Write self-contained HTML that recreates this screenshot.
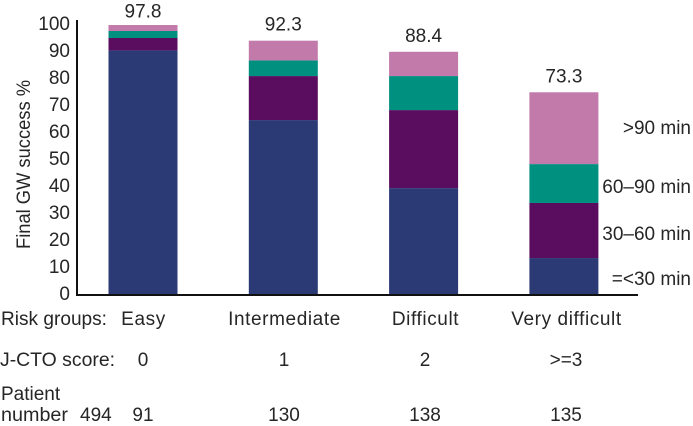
<!DOCTYPE html>
<html>
<head>
<meta charset="utf-8">
<style>
html,body{margin:0;padding:0;background:#fff}
svg{display:block}
text{font-family:"Liberation Sans",sans-serif;font-size:19px;fill:#262626}
.wide{letter-spacing:.6px}
</style>
</head>
<body>
<svg id="chart" width="693" height="426" viewBox="0 0 693 426" xmlns="http://www.w3.org/2000/svg">
<text transform="translate(30,249) rotate(-90)" textLength="169" lengthAdjust="spacingAndGlyphs">Final GW success %</text>
<text x="691" y="134" text-anchor="end">&gt;90 min</text>
<text x="691" y="193" text-anchor="end">60–90 min</text>
<text x="691" y="240" text-anchor="end">30–60 min</text>
<text x="691" y="285" text-anchor="end">=&lt;30 min</text>
<text x="1" y="325" textLength="106" lengthAdjust="spacingAndGlyphs">Risk groups:</text>
<text x="0" y="366" textLength="115" lengthAdjust="spacingAndGlyphs">J-CTO score:</text>
<text x="1" y="400">Patient</text>
<text x="1" y="421" textLength="67" lengthAdjust="spacingAndGlyphs">number</text>
<text x="80" y="421">494</text>
</svg>
<script>
const categories = ["Easy", "Intermediate", "Difficult", "Very difficult"];
const scores = ["0", "1", "2", ">=3"];
const patients = ["91", "130", "138", "135"];
const totals = ["97.8", "92.3", "88.4", "73.3"];
const under30 = [90.4, 64.6, 39.4, 13.5];
const from30to60 = [4.6, 16.3, 28.9, 20.4];
const from60to90 = [2.6, 5.8, 12.6, 14.4];
const over90 = [2.2, 7.3, 9.0, 26.6];
const yTicks = [0, 10, 20, 30, 40, 50, 60, 70, 80, 90, 100];

const svg = document.getElementById('chart');
const NS = 'http://www.w3.org/2000/svg';
const plotLeft = 77, plotRight = 638, baseY = 294.5, unit = 2.7;
const firstCenter = 143, bandStep = 140.3, barW = 69;
const tableFirst = 143, tableStep = 141;
const y = v => baseY - v * unit;
const cx = i => firstCenter + i * bandStep;
const tx = i => tableFirst + i * tableStep;

const seriesList = [under30, from30to60, from60to90, over90];
const seriesColors = ['#2b3a75', '#5a0c5f', '#009080', '#c27aaa'];
const seriesNames = ['under-30', '30-60', '60-90', 'over-90'];

function addText(str, x, yy, cls) {
  const t = document.createElementNS(NS, 'text');
  t.textContent = str;
  t.setAttribute('x', x);
  t.setAttribute('y', yy);
  t.setAttribute('text-anchor', 'middle');
  if (cls) t.setAttribute('class', cls);
  svg.appendChild(t);
  return t;
}

categories.forEach((c, i) => {
  let acc = 0;
  seriesList.forEach((s, k) => {
    const r = document.createElementNS(NS, 'rect');
    r.setAttribute('x', cx(i) - barW / 2);
    r.setAttribute('y', y(acc + s[i]));
    r.setAttribute('width', barW);
    r.setAttribute('height', s[i] * unit);
    r.setAttribute('fill', seriesColors[k]);
    
    
    svg.appendChild(r);
    acc += s[i];
  });
  const total = addText(totals[i], cx(i), Math.max(y(acc) - 10, 17.5));
  
  
  const cat = addText(c, tx(i) + 0.5, 325, 'wide');
  
  
  const sc = addText(scores[i], tx(i), 366);
  
  
  const p = addText(patients[i], tx(i), 421);
  
  
});

yTicks.forEach(v => {
  const t = addText(String(v), 70, y(v) + 5.5);
  t.setAttribute('text-anchor', 'end');
  
  
});

const yAxis = document.createElementNS(NS, 'line');
yAxis.setAttribute('x1', plotLeft);
yAxis.setAttribute('x2', plotLeft);
yAxis.setAttribute('y1', 20);
yAxis.setAttribute('y2', baseY + 1);
yAxis.setAttribute('stroke', '#111');
yAxis.setAttribute('stroke-width', 2);


svg.appendChild(yAxis);

const xAxis = document.createElementNS(NS, 'line');
xAxis.setAttribute('x1', plotLeft - 1);
xAxis.setAttribute('x2', plotRight);
xAxis.setAttribute('y1', baseY + 0.5);
xAxis.setAttribute('y2', baseY + 0.5);
xAxis.setAttribute('stroke', '#111');
xAxis.setAttribute('stroke-width', 2);


svg.appendChild(xAxis);
</script>
</body>
</html>
